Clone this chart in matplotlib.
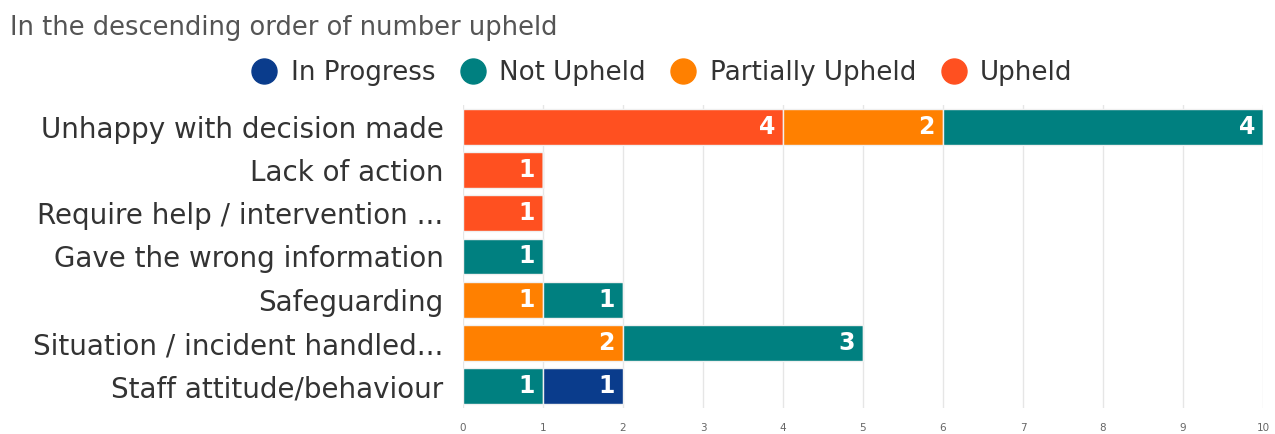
import matplotlib.pyplot as plt
from matplotlib.lines import Line2D

# complaint categories, top to bottom
categories = ['Unhappy with decision made', 'Lack of action', 'Require help / intervention ...',
              'Gave the wrong information', 'Safeguarding', 'Situation / incident handled...',
              'Staff attitude/behaviour']

# counts per outcome, stacked left to right in this order
upheld = [4, 1, 1, 0, 0, 0, 0]
partially_upheld = [2, 0, 0, 0, 1, 2, 0]
not_upheld = [4, 0, 0, 1, 1, 3, 1]
in_progress = [0, 0, 0, 0, 0, 0, 1]

series = [('Upheld', upheld, '#FF5020'),
          ('Partially Upheld', partially_upheld, '#FF8000'),
          ('Not Upheld', not_upheld, '#008080'),
          ('In Progress', in_progress, '#0A3C8C')]

fig = plt.figure(figsize=(12.75, 4.34), dpi=100)
ax = fig.add_axes([0.3631, 0.06, 0.6275, 0.698])

y = list(range(len(categories)))
left = [0] * len(categories)
for name, vals, color in series:
    ax.barh(y, vals, left=left, height=0.83, color=color, edgecolor='#f0f0f0', linewidth=1, zorder=3)
    for i, v in enumerate(vals):
        if v > 0:
            ax.text(left[i] + v - 0.1, i, str(v), ha='right', va='center', color='white',
                    fontsize=17, fontweight='bold', zorder=4)
    left = [l + v for l, v in zip(left, vals)]

ax.set_xlim(0, 10)
ax.set_ylim(len(categories) - 0.5, -0.5)
ax.set_xticks(range(11))
ax.set_yticks(y)
ax.set_yticklabels(categories, fontsize=20, color='#333333')
ax.tick_params(axis='x', labelsize=7.5, colors='#666666', length=0, pad=11)
ax.tick_params(axis='y', length=0, pad=14)
ax.grid(axis='x', color='#e6e6e6', linewidth=1, zorder=0)
for s in ax.spines.values():
    s.set_visible(False)

fig.text(0.008, 0.935, 'In the descending order of number upheld', fontsize=18.5, color='#555555', va='center')

handles = [Line2D([], [], marker='o', linestyle='', markersize=18, color=c)
           for _, _, c in reversed(series)]
labels = [n for n, _, _ in reversed(series)]
fig.legend(handles, labels, loc='center', bbox_to_anchor=(0.514, 0.832), ncol=4, frameon=False,
           fontsize=18.8, handletextpad=0.0, columnspacing=0.45, labelcolor='#333333')

fig.savefig('out.png', dpi=100, facecolor='white')
